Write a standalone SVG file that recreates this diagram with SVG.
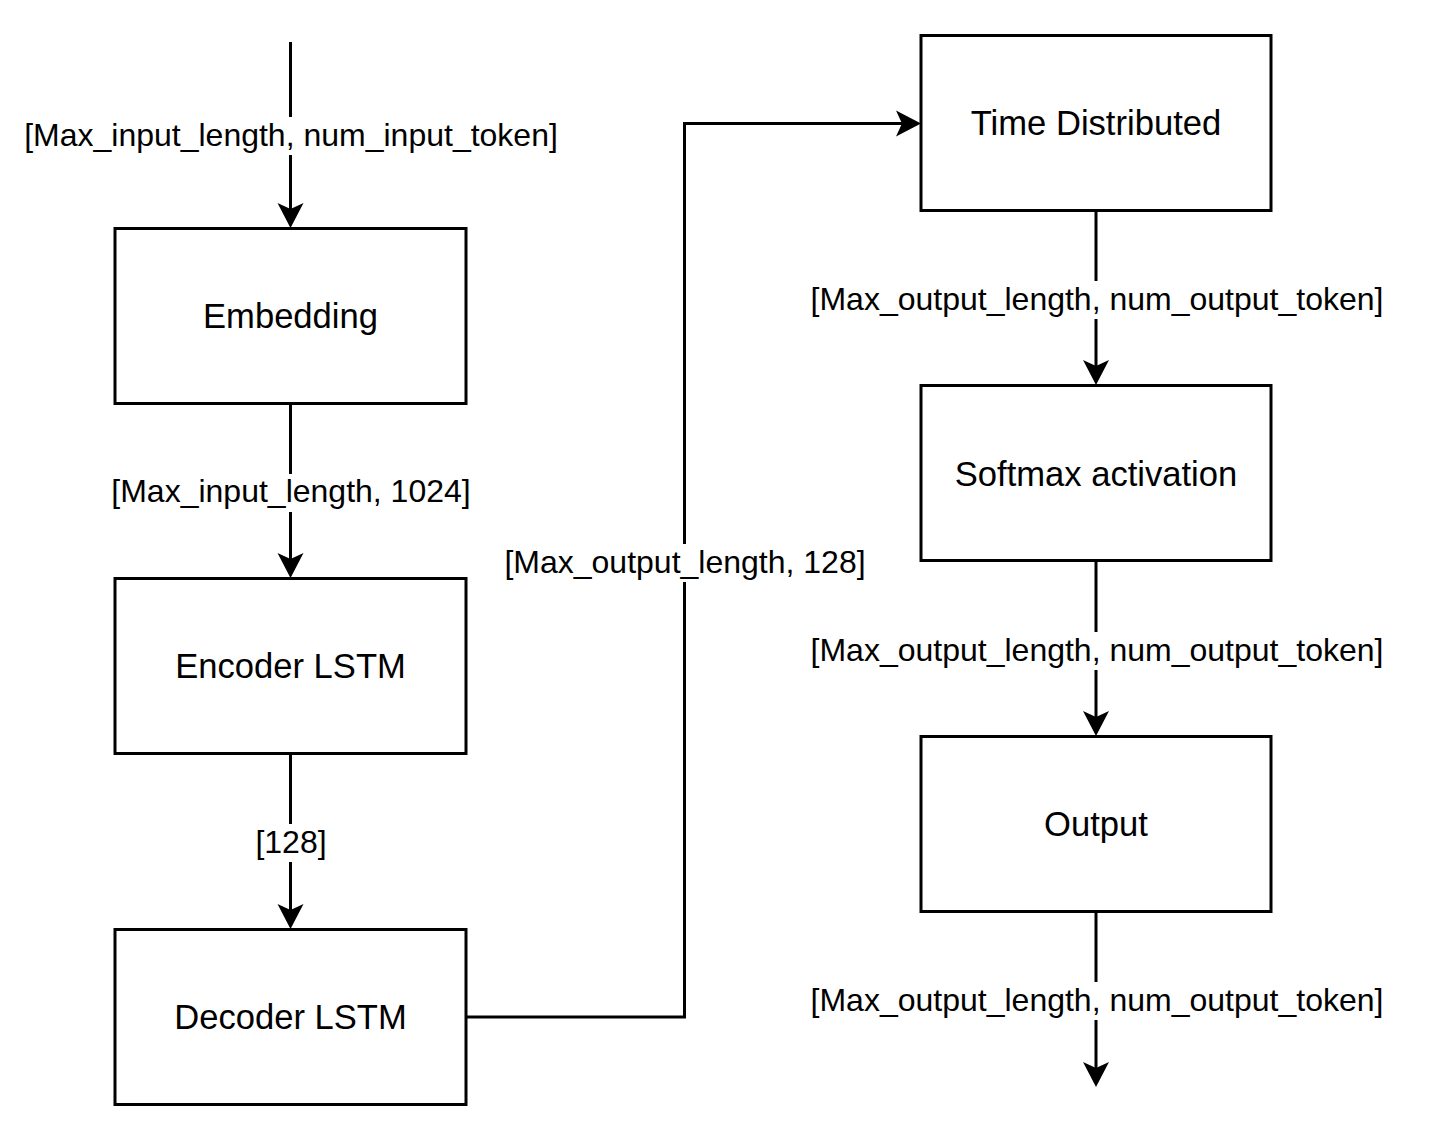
<svg xmlns="http://www.w3.org/2000/svg" width="1452" height="1147" viewBox="0 0 1452 1147">
<style>
  .box { fill: #ffffff; stroke: #000000; stroke-width: 3; }
  .btxt { font-family: "Liberation Sans", Arial, sans-serif; font-size: 34.6px; fill: #000000; text-anchor: middle; }
  .edge { fill: none; stroke: #000000; stroke-width: 3; }
  .lbg { fill: #ffffff; }
  .ltxt { font-family: "Liberation Sans", Arial, sans-serif; font-size: 32px; fill: #000000; text-anchor: middle; }
</style>
<defs>
  <marker id="arr" markerUnits="userSpaceOnUse" markerWidth="28" markerHeight="28" viewBox="0 0 28 28" refX="15" refY="14" orient="auto">
    <path d="M0,1 L25,14 L0,27 L6,14 Z" fill="#000000"/>
  </marker>
</defs>
<rect width="1452" height="1147" fill="#ffffff"/>

<g id="connectors">
  <path class="edge" d="M290.5,42 L290.5,218" marker-end="url(#arr)"/>
  <path class="edge" d="M290.5,403 L290.5,568" marker-end="url(#arr)"/>
  <path class="edge" d="M290.5,753 L290.5,919" marker-end="url(#arr)"/>
  <path class="edge" d="M466,1017 L684.5,1017 L684.5,123.5 L911,123.5" marker-end="url(#arr)"/>
  <path class="edge" d="M1096,210 L1096,375" marker-end="url(#arr)"/>
  <path class="edge" d="M1096,560 L1096,726" marker-end="url(#arr)"/>
  <path class="edge" d="M1096,911 L1096,1077" marker-end="url(#arr)"/>

  <g id="label-input">
    <rect class="lbg" x="24" y="117" width="534" height="38"/>
    <text class="ltxt" x="291" y="146">[Max_input_length, num_input_token]</text>
  </g>
  <g id="label-embed">
    <rect class="lbg" x="111" y="474" width="360" height="38"/>
    <text class="ltxt" x="291" y="502">[Max_input_length, 1024]</text>
  </g>
  <g id="label-enc">
    <rect class="lbg" x="255" y="824" width="72" height="38"/>
    <text class="ltxt" x="291" y="853">[128]</text>
  </g>
  <g id="label-dec">
    <rect class="lbg" x="504" y="544" width="362" height="38"/>
    <text class="ltxt" x="685" y="573">[Max_output_length, 128]</text>
  </g>
  <g id="label-td">
    <rect class="lbg" x="809" y="281" width="575" height="38"/>
    <text class="ltxt" x="1097" y="310">[Max_output_length, num_output_token]</text>
  </g>
  <g id="label-sm">
    <rect class="lbg" x="809" y="632" width="575" height="38"/>
    <text class="ltxt" x="1097" y="661">[Max_output_length, num_output_token]</text>
  </g>
  <g id="label-out">
    <rect class="lbg" x="809" y="982" width="575" height="38"/>
    <text class="ltxt" x="1097" y="1011">[Max_output_length, num_output_token]</text>
  </g>
</g>

<g id="embedding">
  <rect class="box" x="115" y="228.5" width="351" height="175"/>
  <text class="btxt" x="290.5" y="328">Embedding</text>
</g>
<g id="encoder-lstm">
  <rect class="box" x="115" y="578.5" width="351" height="175"/>
  <text class="btxt" x="290.5" y="678">Encoder LSTM</text>
</g>
<g id="decoder-lstm">
  <rect class="box" x="115" y="929.5" width="351" height="175"/>
  <text class="btxt" x="290.5" y="1029">Decoder LSTM</text>
</g>
<g id="time-distributed">
  <rect class="box" x="921" y="35.5" width="350" height="175"/>
  <text class="btxt" x="1096" y="135">Time Distributed</text>
</g>
<g id="softmax-activation">
  <rect class="box" x="921" y="385.5" width="350" height="175"/>
  <text class="btxt" x="1096" y="486">Softmax activation</text>
</g>
<g id="output">
  <rect class="box" x="921" y="736.5" width="350" height="175"/>
  <text class="btxt" x="1096" y="836">Output</text>
</g>
</svg>
